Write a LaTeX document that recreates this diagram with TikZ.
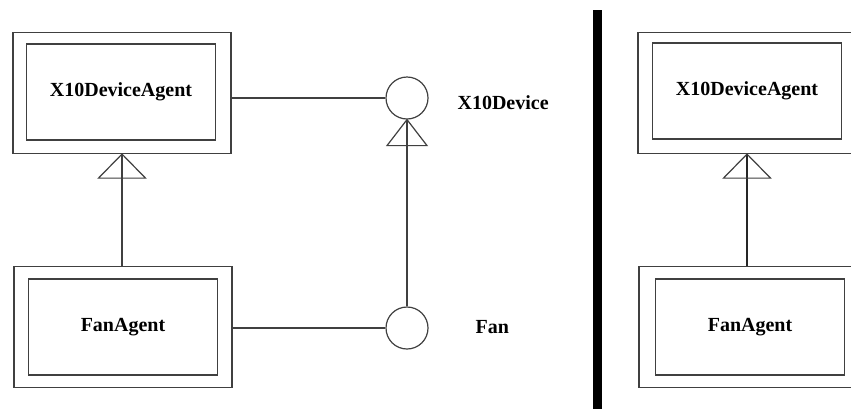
\documentclass[tikz,border=0pt]{standalone}
\usepackage{fontspec}
\setmainfont{Liberation Serif}
\usepackage{tikz}

\begin{document}
\begin{tikzpicture}[x=1pt, y=-1pt, line width=1.2pt,
    outerbox/.style={draw=black!75, minimum width=218pt, minimum height=121pt, inner sep=0pt},
    innerbox/.style={draw=black!75, minimum width=189pt, minimum height=96pt, inner sep=0pt,
      font=\fontsize{20}{24}\selectfont\bfseries},
    iface/.style={draw=black!75, circle, minimum size=42pt, inner sep=0pt},
    lbl/.style={anchor=west, inner sep=0pt, font=\fontsize{20}{24}\selectfont\bfseries}]
    \clip (0,0) rectangle (851,408);
    \fill[white] (0,0) rectangle (851,408);
    % left part
    \node[outerbox] (x10agent) at (122,93) {};
    \node[innerbox] (x10agentin) at (121,92) {X10DeviceAgent};
    \node[outerbox] (fanagent) at (123,327) {};
    \node[innerbox] (fanagentin) at (123,327) {FanAgent};
    \node[iface] (x10dev) at (407,98) {};
    \node[iface] (fan) at (407,328) {};
    \node[lbl] (x10devlbl) at (457,103) {X10Device};
    \node[lbl] (fanlbl) at (475,327) {Fan};
    \draw[-, draw=black!75] (x10agent.east |- x10dev) to (x10dev.west);
    \draw[-, draw=black!75] (fanagent.east |- fan) to (fan.west);
    \draw[-, draw=black!75] (fanagent.north -| x10agent.south) to (x10agent.south);
    \draw[-, draw=black!75] (fan.north) to (x10dev.south);
    \draw[draw=black!75] (x10agent.south) -- ++(-23.5,24) -- ++(47,0) -- cycle;
    \draw[draw=black!75] (x10dev.south) -- ++(-20,26) -- ++(40,0) -- cycle;
    % separator
    \draw[line width=9pt] (597,10) -- (597,420);
    % right part
    \node[outerbox] (x10agentR) at (747,93) {};
    \node[innerbox] (x10agentRin) at (747,91) {X10DeviceAgent};
    \node[outerbox] (fanagentR) at (748,327) {};
    \node[innerbox] (fanagentRin) at (750,327) {FanAgent};
    \draw[-, draw=black!85] (fanagentR.north -| x10agentR.south) to (x10agentR.south);
    \draw[draw=black!75] (x10agentR.south) -- ++(-23.5,24) -- ++(47,0) -- cycle;
\end{tikzpicture}
\end{document}
